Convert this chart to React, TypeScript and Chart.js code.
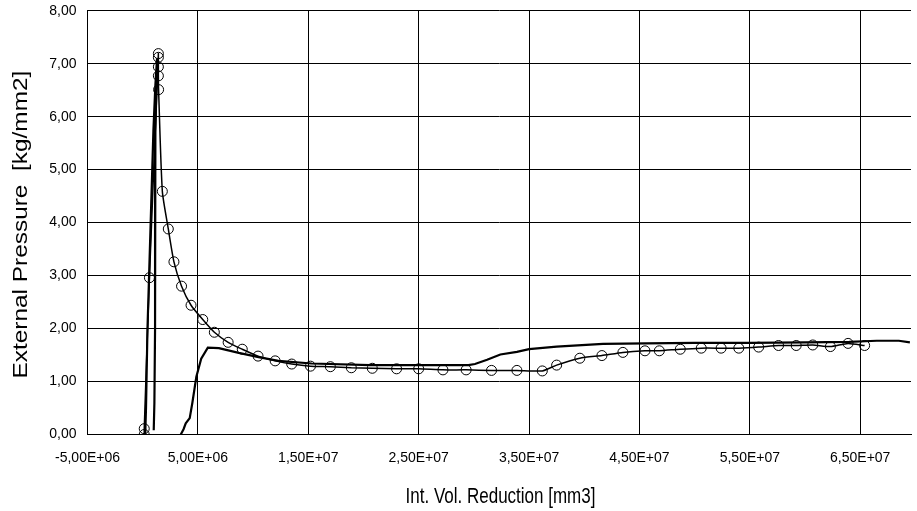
import React, { useEffect, useRef } from 'react';
import { Chart, registerables } from 'chart.js';

Chart.register(...registerables);

// Tick values
const xTickValues = [-5e6, 5e6, 1.5e7, 2.5e7, 3.5e7, 4.5e7, 5.5e7, 6.5e7];
const yTickValues = [0, 1, 2, 3, 4, 5, 6, 7, 8];

// Axis titles
const xTitle = 'Int. Vol. Reduction [mm3]';
const yTitle = 'External Pressure  [kg/mm2]';

// Series 1 (circle markers) – x in mm3, y in kg/mm2
const circX = [
  0.14e6, 0.14e6, 0.61e6, 1.42e6, 1.42e6, 1.42e6, 1.42e6, 1.44e6, 1.78e6, 2.32e6,
  2.83e6, 3.52e6, 4.38e6, 5.44e6, 6.49e6, 7.74e6, 9.02e6, 10.45e6, 12.0e6, 13.5e6,
  15.2e6, 17.0e6, 18.9e6, 20.8e6, 23.0e6, 25.0e6, 27.2e6, 29.3e6, 31.6e6, 33.9e6,
  36.2e6, 37.5e6, 39.6e6, 41.6e6, 43.5e6, 45.5e6, 46.8e6, 48.7e6, 50.6e6, 52.4e6,
  54.0e6, 55.8e6, 57.6e6, 59.2e6, 60.7e6, 62.3e6, 63.9e6, 65.4e6,
];
const circY = [
  0.0, 0.11, 2.96, 7.19, 7.12, 6.94, 6.77, 6.51, 4.59, 3.88,
  3.26, 2.8, 2.44, 2.17, 1.93, 1.74, 1.61, 1.48, 1.39, 1.33,
  1.29, 1.28, 1.26, 1.25, 1.24, 1.24, 1.22, 1.22, 1.21, 1.21,
  1.2, 1.31, 1.44, 1.49, 1.55, 1.58, 1.58, 1.61, 1.63, 1.63,
  1.63, 1.65, 1.68, 1.68, 1.69, 1.66, 1.72, 1.68,
];

// Series 2a (first loading spike, no markers)
const spikeX = [0.23e6, 0.3e6, 0.43e6, 0.65e6, 0.97e6, 1.15e6, 1.3e6, 1.28e6, 1.15e6, 1.12e6, 1.06e6, 1.0e6];
const spikeY = [0.0, 0.5, 1.97, 3.5, 5.74, 6.6, 7.1, 6.9, 5.7, 2.0, 0.6, 0.08];

// Series 2b (reloading curve, no markers)
const curveX = [
  3.45e6, 3.7e6, 3.9e6, 4.26e6, 4.5e6, 4.86e6, 5.3e6, 5.9e6, 6.9e6, 8.7e6,
  10.5e6, 12.3e6, 15.3e6, 20.6e6, 25.0e6, 28.0e6, 29.5e6, 30.1e6, 31.2e6, 32.4e6,
  33.9e6, 35.0e6, 37.5e6, 41.7e6, 45.6e6, 50.0e6, 55.0e6, 60.0e6, 64.0e6, 66.5e6,
  68.5e6, 69.5e6,
];
const curveY = [
  0.0, 0.1, 0.21, 0.31, 0.6, 1.09, 1.43, 1.64, 1.63, 1.54,
  1.46, 1.39, 1.34, 1.31, 1.31, 1.31, 1.31, 1.33, 1.41, 1.51,
  1.56, 1.61, 1.66, 1.71, 1.72, 1.73, 1.73, 1.74, 1.75, 1.77,
  1.77, 1.74,
];

const toPts = (xs: number[], ys: number[]) => xs.map((x, i) => ({ x, y: ys[i] }));

const fmtE = (v: number) => {
  const s = v.toExponential(2); // e.g. -5.00e+6
  const [m, e] = s.split('e');
  const sign = e[0] === '-' ? '-' : '+';
  const digits = e.replace(/[+-]/, '').padStart(2, '0');
  return m.replace('.', ',') + 'E' + sign + digits;
};
const fmtY = (v: number) => v.toFixed(2).replace('.', ',');

const FONT = 'Arial, "Liberation Sans", Helvetica, sans-serif';

// Draws the (slightly stretched) axis titles, like the original picture
const titlePlugin = {
  id: 'stretchedTitles',
  afterDraw(chart: any) {
    const { ctx, chartArea } = chart;
    ctx.save();
    ctx.fillStyle = '#000';
    ctx.textAlign = 'center';
    ctx.textBaseline = 'middle';
    // y title
    ctx.save();
    ctx.font = `20px ${FONT}`;
    ctx.translate(21, (chartArea.top + chartArea.bottom) / 2 + 2);
    ctx.rotate(-Math.PI / 2);
    ctx.scale(1.22, 1);
    ctx.fillText(yTitle, 0, 0);
    ctx.restore();
    // x title
    ctx.save();
    ctx.font = `17px ${FONT}`;
    ctx.translate(500.5, 497.5);
    ctx.scale(1, 1.25);
    ctx.fillText(xTitle, 0, 0);
    ctx.restore();
    ctx.restore();
  },
};

export default function App() {
  const ref = useRef<HTMLCanvasElement | null>(null);

  useEffect(() => {
    if (!ref.current) return;
    const chart = new Chart(ref.current, {
      type: 'scatter',
      data: {
        datasets: [
          {
            data: toPts(spikeX, spikeY),
            showLine: true,
            borderColor: '#000',
            borderWidth: 2.2,
            pointRadius: 0,
            tension: 0,
          },
          {
            data: toPts(curveX, curveY),
            showLine: true,
            borderColor: '#000',
            borderWidth: 2.2,
            pointRadius: 0,
            tension: 0,
          },
          {
            data: toPts(circX, circY),
            showLine: true,
            borderColor: '#000',
            borderWidth: 1.5,
            pointRadius: 5,
            pointBorderWidth: 1,
            pointBackgroundColor: 'rgba(0,0,0,0)',
            pointBorderColor: '#000',
            tension: 0.2,
          },
        ],
      },
      options: {
        responsive: false,
        animation: false,
        devicePixelRatio: 1,
        layout: { padding: { top: 10.7, right: 0, left: 0, bottom: 0 } },
        plugins: { legend: { display: false }, tooltip: { enabled: false } },
        scales: {
          x: {
            type: 'linear',
            min: -5e6,
            max: 6.96e7,
            afterBuildTicks: (scale: any) => {
              scale.ticks = xTickValues.map((value) => ({ value }));
            },
            afterFit: (scale: any) => {
              scale.height = 76.5;
              scale.paddingLeft = 0;
              scale.paddingRight = 0;
            },
            grid: { color: '#000', lineWidth: 1, drawTicks: false },
            border: { color: '#000', width: 1 },
            ticks: {
              color: '#000',
              font: { family: FONT, size: 14 },
              padding: 15,
              maxRotation: 0,
              autoSkip: false,
              callback: (v: any) => fmtE(Number(v)),
            },
            title: { display: false },
          },
          y: {
            type: 'linear',
            min: 0,
            max: 8,
            afterBuildTicks: (scale: any) => {
              scale.ticks = yTickValues.map((value) => ({ value }));
            },
            afterFit: (scale: any) => {
              scale.width = 87.5;
              scale.paddingTop = 0;
              scale.paddingBottom = 0;
            },
            grid: { color: '#000', lineWidth: 1, drawTicks: false },
            border: { color: '#000', width: 1 },
            ticks: {
              color: '#000',
              font: { family: FONT, size: 14 },
              padding: 11,
              autoSkip: false,
              callback: (v: any) => fmtY(Number(v)),
            },
            title: { display: false },
          },
        },
      },
      plugins: [titlePlugin],
    } as any);
    return () => chart.destroy();
  }, []);

  return (
    <div style={{ position: 'absolute', left: 0, top: 0, width: 917, height: 511, background: '#fff' }}>
      <canvas ref={ref} width={917} height={511} style={{ display: 'block', width: 917, height: 511 }} />
    </div>
  );
}
